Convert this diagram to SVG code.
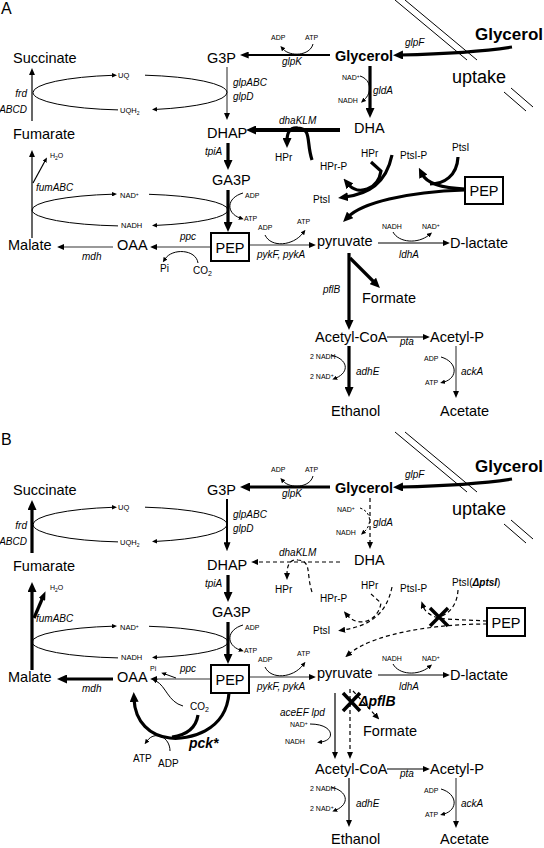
<svg xmlns="http://www.w3.org/2000/svg" width="544" height="848" viewBox="0 0 544 848">
<style>
text{font-family:"Liberation Sans",Arial,sans-serif;fill:#000}
.n{font-size:14.5px}
.nb{font-size:14.5px;font-weight:bold}
.big{font-size:17px;font-weight:bold}
.up{font-size:18px}
.g{font-size:10px;font-style:italic}
.gb{font-size:14px;font-style:italic;font-weight:bold}
.m{font-size:10px}
.s{font-size:7px}
.e{font-size:7.5px}
.pl{font-size:16px}
.k{fill:none;stroke:#000;stroke-width:3.2}
.k4{fill:none;stroke:#000;stroke-width:4}
.md{fill:none;stroke:#000;stroke-width:2}
.t{fill:none;stroke:#000;stroke-width:1.2}
.c{fill:none;stroke:#000;stroke-width:1}
.gr{fill:none;stroke:#777;stroke-width:1.6}
.d{fill:none;stroke:#000;stroke-width:1.2;stroke-dasharray:4 3}
.dc{fill:none;stroke:#000;stroke-width:1;stroke-dasharray:2.5 2}
.x{fill:none;stroke:#000;stroke-width:3.5}
.box{fill:#fff;stroke:#000;stroke-width:2}
</style>
<defs>
<marker id="ab" viewBox="0 0 10 10" refX="3" refY="5" markerWidth="10" markerHeight="9" markerUnits="userSpaceOnUse" orient="auto" preserveAspectRatio="none"><path d="M0,0L10,5L0,10z"/></marker>
<marker id="am" viewBox="0 0 10 10" refX="3" refY="5" markerWidth="9" markerHeight="7" markerUnits="userSpaceOnUse" orient="auto" preserveAspectRatio="none"><path d="M0,0L10,5L0,10z"/></marker>
<marker id="as" viewBox="0 0 10 10" refX="3" refY="5" markerWidth="7" markerHeight="6" markerUnits="userSpaceOnUse" orient="auto" preserveAspectRatio="none"><path d="M0,0L10,5L0,10z"/></marker>
<marker id="at" viewBox="0 0 10 10" refX="2" refY="5" markerWidth="5" markerHeight="4.5" markerUnits="userSpaceOnUse" orient="auto" preserveAspectRatio="none"><path d="M0,0L10,5L0,10z"/></marker>
</defs>

<!-- ================= PANEL A ================= -->
<g id="panelA">
<g id="a-connectors">
<path class="c" d="M395,0L467,60M405,0L477,60M504,92L526,111M511,88L533,107"/>
<path class="k" d="M512,47C480,52 440,54 400,55" marker-end="url(#ab)"/>
<path class="md" d="M330,55L246,55" marker-end="url(#am)"/>
<path class="c" d="M313,44C310,56 290,57 283,49" marker-end="url(#at)"/>
<path class="k" d="M370,66L370,111" marker-end="url(#ab)"/>
<path class="c" d="M360,76C372,80 372,93 364,100" marker-end="url(#at)"/>
<path class="k4" d="M340,130L253,130" marker-end="url(#ab)"/>
<path class="k" d="M312,160C306,142 312,129 298,128C289,127 287,134 287,141" marker-end="url(#ab)"/>
<path class="k" d="M228,143L228,163" marker-end="url(#ab)"/>
<path class="k" d="M228,190L228,225" marker-end="url(#ab)"/>
<path class="c" d="M243,193C226,198 226,213 240,218" marker-end="url(#at)"/>
<path class="gr" d="M227,67L227,115" marker-end="url(#as)"/>
<path class="c" d="M33,92.5A97,17.5 0 0 1 113,75.3" marker-end="url(#at)"/>
<path class="c" d="M145,75.2A97,17.5 0 0 1 227,92.5"/>
<path class="c" d="M227,92.5A97,17.5 0 0 1 156,109.4" marker-end="url(#at)"/>
<path class="c" d="M118,109.9A97,17.5 0 0 1 33,92.5"/>
<path class="c" d="M32,210A98,16 0 0 1 113,194.2" marker-end="url(#at)"/>
<path class="c" d="M149,194.3A98,16 0 0 1 228,210"/>
<path class="c" d="M228,210A98,16 0 0 1 156,225.4" marker-end="url(#at)"/>
<path class="c" d="M118,225.9A98,16 0 0 1 32,210"/>
<path class="t" d="M32,121L32,73" marker-end="url(#as)"/>
<path class="t" d="M32,238L32,155" marker-end="url(#as)"/>
<path class="t" d="M33,183L45,161" marker-end="url(#at)"/>
<path class="gr" d="M113,247L62,247" marker-end="url(#as)"/>
<path class="gr" d="M210,247L155,247" marker-end="url(#as)"/>
<path class="c" d="M198,263C196,249 172,248 165,259" marker-end="url(#at)"/>
<path class="gr" d="M249,245L311,245" marker-end="url(#as)"/>
<path class="c" d="M265,235C271,248 293,246 303,233" marker-end="url(#at)"/>
<path class="k" d="M392,155C386,184 368,194 345,197" marker-end="url(#ab)"/>
<path class="k" d="M371,162L381,171C378,190 358,196 348,184" marker-end="url(#ab)"/>
<path class="k" d="M458,157C457,176 444,184 430,184"/>
<path class="k" d="M465,189C440,188 426,182 422,174" marker-end="url(#ab)"/>
<path class="k" d="M465,190C405,192 362,203 348,217" marker-end="url(#ab)"/>
<path class="t" d="M378,243L445,243" marker-end="url(#as)"/>
<path class="c" d="M393,232C399,243 418,244 429,235" marker-end="url(#at)"/>
<path class="k" d="M349,253L349,323" marker-end="url(#ab)"/>
<path class="k" d="M350,258L375,283" marker-end="url(#ab)"/>
<path class="t" d="M387,337L425,337" marker-end="url(#as)"/>
<path class="k" d="M349,346L349,390" marker-end="url(#ab)"/>
<path class="c" d="M331,355C348,359 350,372 336,378" marker-end="url(#at)"/>
<path class="gr" d="M456,346L456,393" stroke-width="2" marker-end="url(#as)"/>
<path class="c" d="M441,357C458,362 458,378 444,382" marker-end="url(#at)"/>
</g>
<g id="a-label"><text class="pl" x="1" y="14">A</text></g>
<g id="a-glycerol-ext"><text class="big" x="543" y="40" text-anchor="end">Glycerol</text></g>
<g id="a-uptake"><text class="up" x="452" y="83">uptake</text></g>
<g id="a-glpF"><text class="g" x="405" y="46">glpF</text></g>
<g id="a-glycerol"><text class="nb" x="335" y="61">Glycerol</text></g>
<g id="a-glpK"><text class="s" x="271" y="40">ADP</text><text class="s" x="305" y="40">ATP</text><text class="g" x="282" y="65">glpK</text></g>
<g id="a-g3p"><text class="n" x="207" y="63">G3P</text></g>
<g id="a-glpABC"><text class="g" x="233" y="86">glpABC</text><text class="g" x="233" y="100">glpD</text></g>
<g id="a-uq"><text class="e" x="118" y="78">UQ</text><text class="e" x="120" y="113">UQH<tspan dy="2" font-size="5">2</tspan></text></g>
<g id="a-succinate"><text class="n" x="13" y="63">Succinate</text></g>
<g id="a-frd"><text class="g" x="27" y="97" text-anchor="end">frd</text><text class="g" x="27" y="113" text-anchor="end">ABCD</text></g>
<g id="a-fumarate"><text class="n" x="13" y="139">Fumarate</text></g>
<g id="a-dhap"><text class="n" x="207" y="138">DHAP</text></g>
<g id="a-dhaKLM"><text class="g" x="279" y="124">dhaKLM</text></g>
<g id="a-dha"><text class="n" x="354" y="133">DHA</text></g>
<g id="a-gldA"><text class="s" x="342" y="80">NAD<tspan dy="-2.5" font-size="5">+</tspan></text><text class="s" x="338" y="103">NADH</text><text class="g" x="373" y="94">gldA</text></g>
<g id="a-hpr1"><text class="m" x="275" y="161">HPr</text></g>
<g id="a-hprp"><text class="m" x="320" y="170">HPr-P</text></g>
<g id="a-hpr2"><text class="m" x="361" y="157">HPr</text></g>
<g id="a-ptsip"><text class="m" x="400" y="159">PtsI-P</text></g>
<g id="a-ptsi1"><text class="m" x="452" y="151">PtsI</text></g>
<g id="a-ptsi2"><text class="m" x="313" y="203">PtsI</text></g>
<g id="a-pep2"><rect class="box" x="465" y="177" width="38" height="27"/><text class="n" x="484" y="196" text-anchor="middle">PEP</text></g>
<g id="a-tpiA"><text class="g" x="205" y="155">tpiA</text></g>
<g id="a-ga3p"><text class="n" x="212" y="185">GA3P</text><text class="s" x="245" y="198">ADP</text><text class="s" x="244" y="221">ATP</text></g>
<g id="a-fumABC"><text class="s" x="50" y="158">H<tspan dy="2" font-size="5">2</tspan><tspan dy="-2">O</tspan></text><text class="g" x="36" y="191">fumABC</text></g>
<g id="a-nad"><text class="e" x="120" y="198">NAD<tspan dy="-2.5" font-size="5">+</tspan></text><text class="e" x="121" y="228">NADH</text></g>
<g id="a-malate"><text class="n" x="8" y="250">Malate</text><text class="g" x="82" y="260">mdh</text></g>
<g id="a-oaa"><text class="n" x="117" y="250">OAA</text></g>
<g id="a-ppc"><text class="g" x="180" y="240">ppc</text><text class="m" x="160" y="272">Pi</text><text class="m" x="193" y="274">CO<tspan dy="2" font-size="7">2</tspan></text></g>
<g id="a-pep"><rect class="box" x="211" y="233" width="38" height="28"/><text class="n" x="230" y="253" text-anchor="middle">PEP</text></g>
<g id="a-pyk"><text class="s" x="258" y="230">ADP</text><text class="s" x="297" y="224">ATP</text><text class="g" x="257" y="258">pykF, pykA</text></g>
<g id="a-pyruvate"><text class="n" x="317" y="246">pyruvate</text></g>
<g id="a-ldhA"><text class="s" x="382" y="229">NADH</text><text class="s" x="422" y="229">NAD<tspan dy="-2.5" font-size="5">+</tspan></text><text class="g" x="399" y="258">ldhA</text></g>
<g id="a-dlactate"><text class="n" x="450" y="248">D-lactate</text></g>
<g id="a-pflB"><text class="g" x="323" y="293">pflB</text></g>
<g id="a-formate"><text class="n" x="362" y="303">Formate</text></g>
<g id="a-acetylcoa"><text class="n" x="315" y="342">Acetyl-CoA</text></g>
<g id="a-pta"><text class="g" x="400" y="345">pta</text></g>
<g id="a-acetylp"><text class="n" x="430" y="342">Acetyl-P</text></g>
<g id="a-adhE"><text class="s" x="310" y="359">2 NADH</text><text class="s" x="310" y="379">2 NAD<tspan dy="-2.5" font-size="5">+</tspan></text><text class="g" x="356" y="375">adhE</text></g>
<g id="a-ackA"><text class="s" x="424" y="361">ADP</text><text class="s" x="425" y="385">ATP</text><text class="g" x="461" y="375">ackA</text></g>
<g id="a-ethanol"><text class="n" x="331" y="416">Ethanol</text></g>
<g id="a-acetate"><text class="n" x="440" y="416">Acetate</text></g>
</g>

<!-- ================= PANEL B ================= -->
<g id="panelB" transform="translate(0,432)">
<g id="b-connectors">
<path class="c" d="M395,0L467,60M405,0L477,60M504,92L526,111M511,88L533,107"/>
<path class="k" d="M512,47C480,52 440,54 400,55" marker-end="url(#ab)"/>
<path class="k" d="M330,55L247,55" marker-end="url(#ab)"/>
<path class="c" d="M313,44C310,56 290,57 283,49" marker-end="url(#at)"/>
<path class="d" d="M370,66L370,112" marker-end="url(#as)"/>
<path class="dc" d="M360,76C372,80 372,93 364,100" marker-end="url(#at)"/>
<path class="d" d="M340,130L256,130" marker-end="url(#as)"/>
<path class="d" d="M312,160C306,142 312,129 298,128C289,127 287,134 287,143" marker-end="url(#as)"/>
<path class="k" d="M228,143L228,163" marker-end="url(#ab)"/>
<path class="k" d="M228,190L228,225" marker-end="url(#ab)"/>
<path class="c" d="M243,193C226,198 226,213 240,218" marker-end="url(#at)"/>
<path class="md" d="M227,67L227,113" stroke-width="2.5" marker-end="url(#am)"/>
<path class="c" d="M33,92.5A97,17.5 0 0 1 113,75.3" marker-end="url(#at)"/>
<path class="c" d="M145,75.2A97,17.5 0 0 1 227,92.5"/>
<path class="c" d="M227,92.5A97,17.5 0 0 1 156,109.4" marker-end="url(#at)"/>
<path class="c" d="M118,109.9A97,17.5 0 0 1 33,92.5"/>
<path class="c" d="M32,210A98,16 0 0 1 113,194.2" marker-end="url(#at)"/>
<path class="c" d="M149,194.3A98,16 0 0 1 228,210"/>
<path class="c" d="M228,210A98,16 0 0 1 156,225.4" marker-end="url(#at)"/>
<path class="c" d="M118,225.9A98,16 0 0 1 32,210"/>
<path class="k" d="M32,121L32,75" marker-end="url(#ab)"/>
<path class="k" d="M32,238L32,157" marker-end="url(#ab)"/>
<path class="k" d="M34,186L43,165" marker-end="url(#am)"/>
<path class="k" d="M113,247L64,247" marker-end="url(#ab)"/>
<path class="gr" d="M210,247L155,247" marker-end="url(#as)"/>
<path class="c" d="M176,246L165,242" marker-end="url(#at)"/>
<path class="c" d="M183,274C168,270 166,254 156,249" marker-end="url(#at)"/>
<path class="k" d="M229,261C226,300 188,308 170,306C150,304 135,290 134,267" marker-end="url(#ab)"/>
<path class="k" d="M198,283C196,296 186,303 172,305"/>
<path class="c" d="M170,319C170,305 155,298 147,309" marker-end="url(#at)"/>
<path class="gr" d="M249,245L311,245" marker-end="url(#as)"/>
<path class="c" d="M265,235C271,248 293,246 303,233" marker-end="url(#at)"/>
<path class="d" d="M392,155C386,184 368,194 343,198" marker-end="url(#as)"/>
<path class="d" d="M371,162L381,171C378,190 358,196 347,183" marker-end="url(#as)"/>
<path class="d" d="M458,158C457,176 446,184 436,186"/>
<path class="d" d="M487,189L446,187C432,186 425,180 423,174" marker-end="url(#as)"/>
<path class="d" d="M487,192C440,192 375,200 349,222" marker-end="url(#as)"/>
<path class="x" d="M430,176L448,194M448,176L430,194"/>
<path class="t" d="M378,243L445,243" marker-end="url(#as)"/>
<path class="c" d="M393,232C399,243 418,244 429,235" marker-end="url(#at)"/>
<path class="t" d="M335,261L335,322" marker-end="url(#as)"/>
<path class="c" d="M310,292C334,292 336,308 321,310" marker-end="url(#at)"/>
<path class="d" d="M350,257L350,322" marker-end="url(#as)"/>
<path class="d" d="M353,259L376,284" marker-end="url(#as)"/>
<path class="x" d="M343,261L360,279M360,261L343,279"/>
<path class="t" d="M387,337L425,337" marker-end="url(#as)"/>
<path class="t" d="M349,346L349,390" marker-end="url(#as)"/>
<path class="c" d="M331,355C348,359 350,372 336,378" marker-end="url(#at)"/>
<path class="gr" d="M456,346L456,391" stroke-width="2" marker-end="url(#as)"/>
<path class="c" d="M441,357C458,362 458,378 444,382" marker-end="url(#at)"/>
</g>
<g id="b-label"><text class="pl" x="1" y="13">B</text></g>
<g id="b-glycerol-ext"><text class="big" x="543" y="40" text-anchor="end">Glycerol</text></g>
<g id="b-uptake"><text class="up" x="452" y="83">uptake</text></g>
<g id="b-glpF"><text class="g" x="405" y="46">glpF</text></g>
<g id="b-glycerol"><text class="nb" x="335" y="61">Glycerol</text></g>
<g id="b-glpK"><text class="s" x="271" y="40">ADP</text><text class="s" x="305" y="40">ATP</text><text class="g" x="282" y="65">glpK</text></g>
<g id="b-g3p"><text class="n" x="207" y="63">G3P</text></g>
<g id="b-glpABC"><text class="g" x="233" y="86">glpABC</text><text class="g" x="233" y="100">glpD</text></g>
<g id="b-uq"><text class="e" x="118" y="78">UQ</text><text class="e" x="120" y="113">UQH<tspan dy="2" font-size="5">2</tspan></text></g>
<g id="b-succinate"><text class="n" x="13" y="63">Succinate</text></g>
<g id="b-frd"><text class="g" x="27" y="97" text-anchor="end">frd</text><text class="g" x="27" y="113" text-anchor="end">ABCD</text></g>
<g id="b-fumarate"><text class="n" x="13" y="139">Fumarate</text></g>
<g id="b-dhap"><text class="n" x="207" y="138">DHAP</text></g>
<g id="b-dhaKLM"><text class="g" x="279" y="124">dhaKLM</text></g>
<g id="b-dha"><text class="n" x="354" y="133">DHA</text></g>
<g id="b-gldA"><text class="s" x="337" y="80">NAD<tspan dy="-2.5" font-size="5">+</tspan></text><text class="s" x="336" y="103">NADH</text><text class="g" x="373" y="94">gldA</text></g>
<g id="b-hpr1"><text class="m" x="275" y="161">HPr</text></g>
<g id="b-hprp"><text class="m" x="320" y="170">HPr-P</text></g>
<g id="b-hpr2"><text class="m" x="361" y="157">HPr</text></g>
<g id="b-ptsip"><text class="m" x="400" y="160">PtsI-P</text></g>
<g id="b-ptsi1"><text class="m" x="452" y="154">PtsI(<tspan font-weight="bold" font-style="italic">ΔptsI</tspan>)</text></g>
<g id="b-ptsi2"><text class="m" x="313" y="202">PtsI</text></g>
<g id="b-pep2"><rect class="box" x="487" y="176" width="38" height="28"/><text class="n" x="506" y="196" text-anchor="middle">PEP</text></g>
<g id="b-tpiA"><text class="g" x="205" y="155">tpiA</text></g>
<g id="b-ga3p"><text class="n" x="212" y="185">GA3P</text><text class="s" x="245" y="198">ADP</text><text class="s" x="244" y="221">ATP</text></g>
<g id="b-fumABC"><text class="s" x="50" y="158">H<tspan dy="2" font-size="5">2</tspan><tspan dy="-2">O</tspan></text><text class="g" x="36" y="190">fumABC</text></g>
<g id="b-nad"><text class="e" x="120" y="198">NAD<tspan dy="-2.5" font-size="5">+</tspan></text><text class="e" x="121" y="228">NADH</text></g>
<g id="b-malate"><text class="n" x="8" y="250">Malate</text><text class="g" x="82" y="260">mdh</text></g>
<g id="b-oaa"><text class="n" x="117" y="250">OAA</text></g>
<g id="b-ppc"><text class="g" x="180" y="240">ppc</text><text class="s" x="150" y="239">Pi</text><text class="m" x="190" y="278">CO<tspan dy="2" font-size="7">2</tspan></text></g>
<g id="b-pck"><text class="gb" x="189" y="316">pck*</text><text class="m" x="133" y="330">ATP</text><text class="m" x="158" y="335">ADP</text></g>
<g id="b-pep"><rect class="box" x="211" y="233" width="38" height="28"/><text class="n" x="230" y="253" text-anchor="middle">PEP</text></g>
<g id="b-pyk"><text class="s" x="258" y="230">ADP</text><text class="s" x="297" y="224">ATP</text><text class="g" x="257" y="258">pykF, pykA</text></g>
<g id="b-pyruvate"><text class="n" x="317" y="246">pyruvate</text></g>
<g id="b-ldhA"><text class="s" x="382" y="229">NADH</text><text class="s" x="422" y="229">NAD<tspan dy="-2.5" font-size="5">+</tspan></text><text class="g" x="399" y="258">ldhA</text></g>
<g id="b-dlactate"><text class="n" x="450" y="248">D-lactate</text></g>
<g id="b-aceEF"><text class="g" x="280" y="284">aceEF lpd</text><text class="s" x="290" y="295">NAD<tspan dy="-2.5" font-size="5">+</tspan></text><text class="s" x="285" y="312">NADH</text></g>
<g id="b-pflB"><text class="gb" x="359" y="274">ΔpflB</text></g>
<g id="b-formate"><text class="n" x="363" y="304">Formate</text></g>
<g id="b-acetylcoa"><text class="n" x="315" y="342">Acetyl-CoA</text></g>
<g id="b-pta"><text class="g" x="400" y="345">pta</text></g>
<g id="b-acetylp"><text class="n" x="430" y="342">Acetyl-P</text></g>
<g id="b-adhE"><text class="s" x="310" y="359">2 NADH</text><text class="s" x="310" y="379">2 NAD<tspan dy="-2.5" font-size="5">+</tspan></text><text class="g" x="356" y="375">adhE</text></g>
<g id="b-ackA"><text class="s" x="424" y="361">ADP</text><text class="s" x="425" y="385">ATP</text><text class="g" x="461" y="375">ackA</text></g>
<g id="b-ethanol"><text class="n" x="331" y="412">Ethanol</text></g>
<g id="b-acetate"><text class="n" x="440" y="412">Acetate</text></g>
</g>
</svg>
